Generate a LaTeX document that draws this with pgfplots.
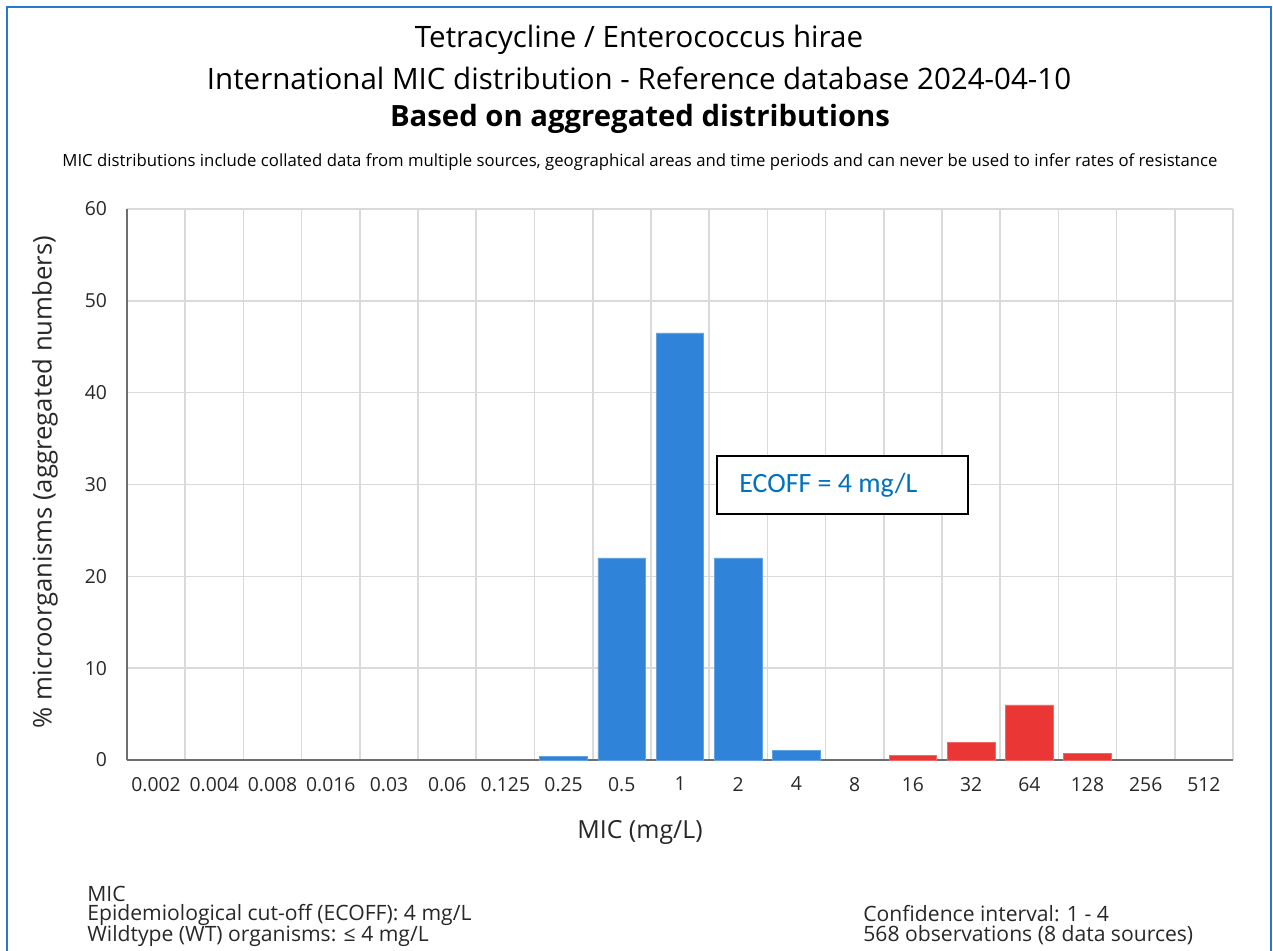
\documentclass[border=0pt]{standalone}
\usepackage{pgfplots}
\pgfplotsset{compat=1.18}
\usepackage{fontspec}
\setmainfont{Open Sans}
\newfontfamily\carlito{Carlito}
\definecolor{barblue}{RGB}{47,132,217}
\definecolor{barred}{RGB}{235,54,54}
\definecolor{frameblue}{RGB}{40,120,205}
\definecolor{ecoffblue}{RGB}{0,112,192}
\definecolor{gridgray}{RGB}{218,218,218}
\definecolor{axisgray}{RGB}{110,110,110}
\definecolor{textgray}{RGB}{40,40,40}
\begin{document}
\begin{tikzpicture}[x=0.5bp,y=0.5bp]
\useasboundingbox (0,0) rectangle (1273,950);
\fill[white] (0,0) rectangle (1273,950);
\draw[frameblue, line width=1.2bp] (7,-5) -- (7,943) -- (1271,943) -- (1271,-5);
% titles
\node[font=\fontsize{14.8}{17}\selectfont, text=black] at (639,950-40) {Tetracycline / Enterococcus hirae};
\node[font=\fontsize{14.8}{17}\selectfont, text=black] at (639,950-78) {International MIC distribution - Reference database 2024-04-10};
\node[font=\fontsize{14.7}{17}\bfseries\selectfont, text=black] at (640,950-119) {Based on aggregated distributions};
\node[font=\fontsize{8.4}{10}\selectfont, text=black] at (640,950-162) {MIC distributions include collated data from multiple sources, geographical areas and time periods and can never be used to infer rates of resistance};
\begin{axis}[
  at={(63.5bp,95bp)}, anchor=south west,
  scale only axis, width=553bp, height=275.5bp,
  xmin=-0.5, xmax=18.5, ymin=0, ymax=60,
  ytick={0,10,...,60},
  xtick={0,...,18},
  xticklabels={0.002,0.004,0.008,0.016,0.03,0.06,0.125,0.25,0.5,1,2,4,8,16,32,64,128,256,512},
  minor xtick={-0.5,0.5,...,18.5},
  xminorgrids, ymajorgrids,
  major grid style={gridgray, line width=0.8bp},
  minor grid style={gridgray, line width=0.8bp},
  major tick length=0pt, minor tick length=0pt,
  axis x line*=bottom, axis y line*=left,
  axis line style={axisgray, line width=1bp, -},
  ticklabel style={font=\fontsize{9.7}{11}\selectfont, text=textgray},
  xticklabel style={yshift=-5bp},
  yticklabel style={xshift=-6.5bp},
  /pgf/number format/assume math mode=true,
]
\addplot[ybar, bar width=0.82, bar shift=0pt, fill=barblue, draw=barblue!75!white, line width=0.4bp] coordinates {(7,0.35) (8,22.0) (9,46.5) (10,22.0) (11,1.05)};
\addplot[ybar, bar width=0.82, bar shift=0pt, fill=barred, draw=barred!75!white, line width=0.4bp] coordinates {(13,0.54) (14,1.9) (15,6.0) (16,0.73)};
\end{axis}
% axis labels
\node[rotate=90, font=\fontsize{12.9}{15}\selectfont, text=textgray] at (45,950-482) {\% microorganisms (aggregated numbers)};
\node[font=\fontsize{12.5}{15}\selectfont, text=textgray] at (640,950-832) {MIC (mg/L)};
% ECOFF box
\draw[black, line width=1bp, fill=white] (717,950-456) rectangle (968,950-514);
\node[anchor=west, font=\carlito\fontsize{14}{16}\selectfont, text=ecoffblue, inner sep=0] at (739,950-485) {ECOFF = 4 mg/L};
% footer
\node[anchor=west, inner sep=0, font=\fontsize{10.6}{12}\selectfont, text=textgray] at (87,950-894) {MIC};
\node[anchor=west, inner sep=0, font=\fontsize{10.6}{12}\selectfont, text=textgray] at (87,950-915) {Epidemiological cut-off (ECOFF): 4 mg/L};
\node[anchor=west, inner sep=0, font=\fontsize{10.6}{12}\selectfont, text=textgray] at (87,950-936) {Wildtype (WT) organisms: ≤ 4 mg/L};
\node[anchor=west, inner sep=0, font=\fontsize{10.6}{12}\selectfont, text=textgray] at (863,950-914) {Confidence interval: 1 - 4};
\node[anchor=west, inner sep=0, font=\fontsize{10.6}{12}\selectfont, text=textgray] at (863,950-935) {568 observations (8 data sources)};
\end{tikzpicture}
\end{document}
